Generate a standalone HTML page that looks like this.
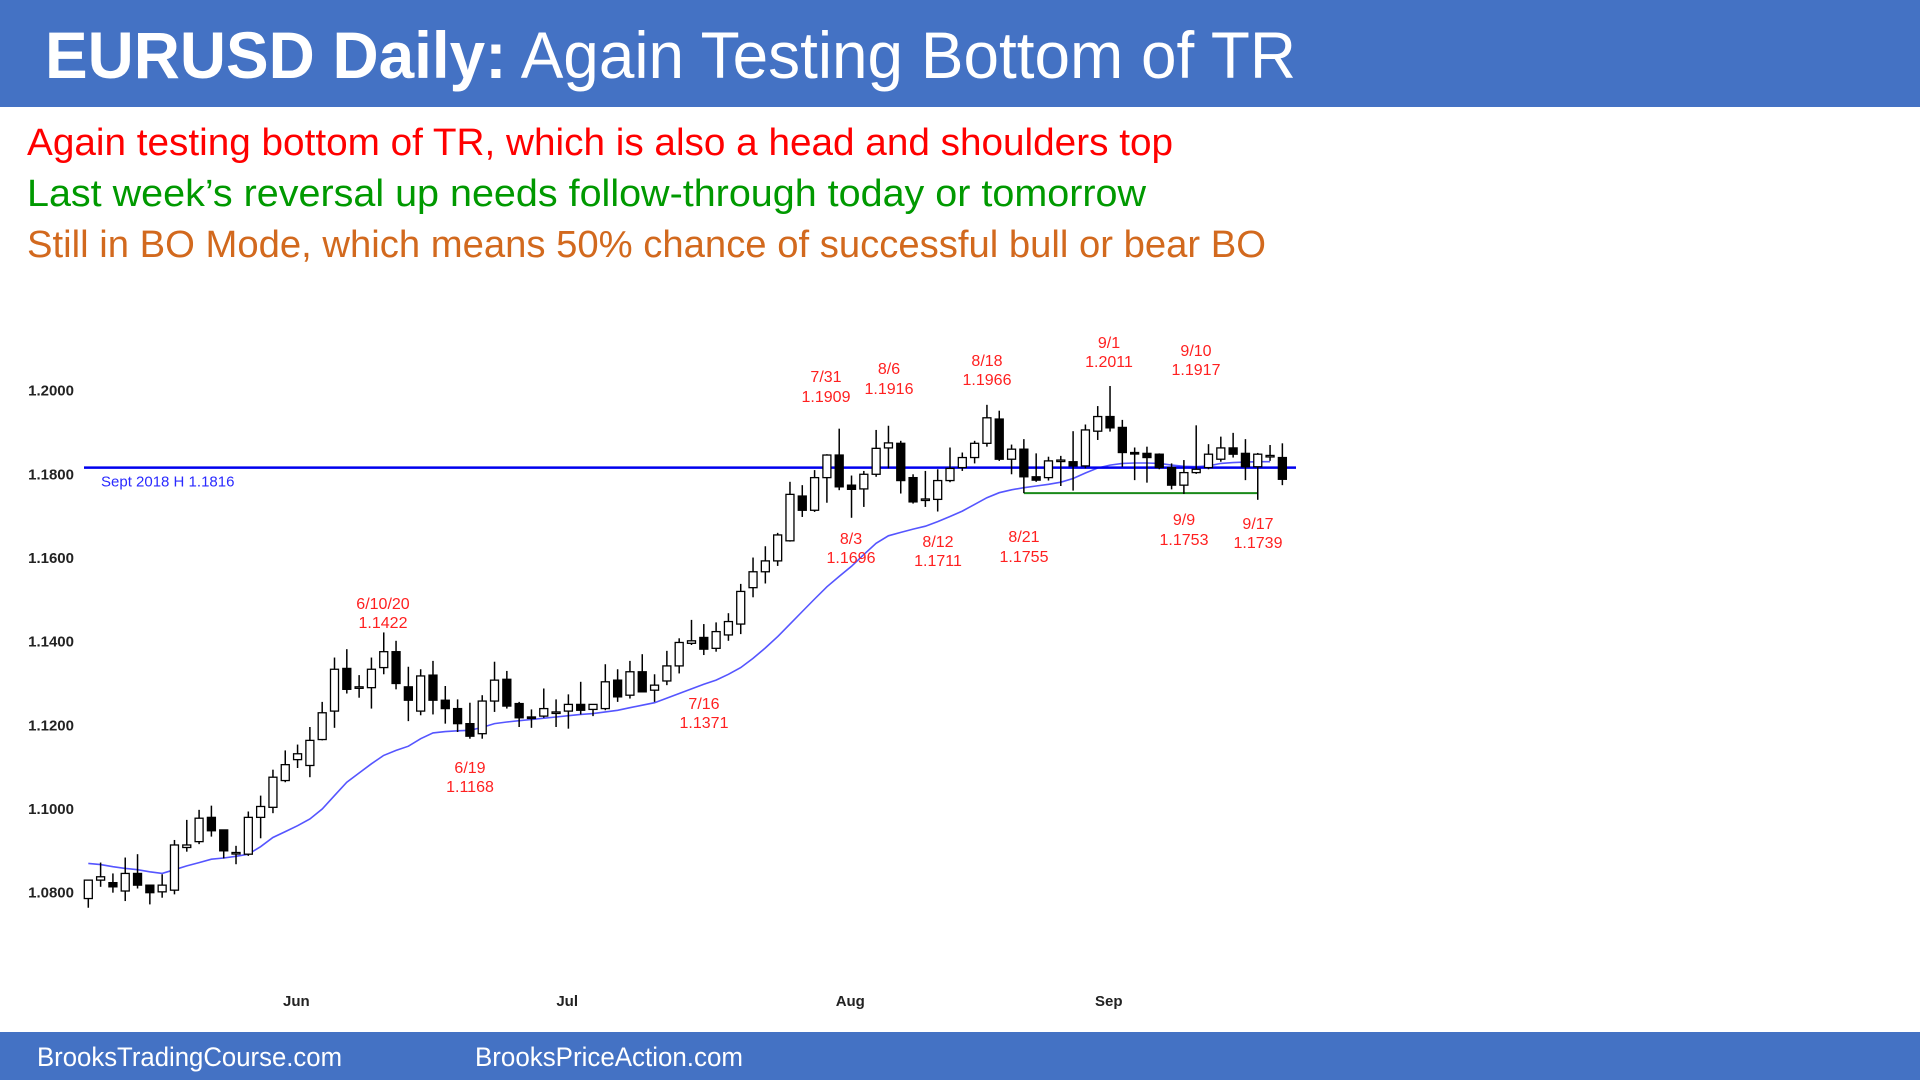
<!DOCTYPE html>
<html><head><meta charset="utf-8"><style>
html,body{margin:0;padding:0;background:#fff;}
svg{display:block;}
</style></head><body>
<svg id="chart" width="1920" height="1080" xmlns="http://www.w3.org/2000/svg" font-family="'Liberation Sans', Arial, sans-serif">
<rect x="0" y="0" width="1920" height="107" fill="#4472C4"/>
<text x="45" y="78" font-size="66" fill="#fff" textLength="1251" lengthAdjust="spacingAndGlyphs"><tspan font-weight="bold">EURUSD Daily:</tspan> Again Testing Bottom of TR</text>
<text x="27" y="155" font-size="38" fill="#FF0000" textLength="1146" lengthAdjust="spacingAndGlyphs">Again testing bottom of TR, which is also a head and shoulders top</text>
<text x="27" y="206" font-size="38" fill="#009900" textLength="1119" lengthAdjust="spacingAndGlyphs">Last week’s reversal up needs follow-through today or tomorrow</text>
<text x="27" y="257" font-size="38" fill="#D2691E" textLength="1239" lengthAdjust="spacingAndGlyphs">Still in BO Mode, which means 50% chance of successful bull or bear BO</text>
<rect x="0" y="1032" width="1920" height="48" fill="#4472C4"/>
<text x="37" y="1066" font-size="27" fill="#fff" textLength="305" lengthAdjust="spacingAndGlyphs">BrooksTradingCourse.com</text>
<text x="475" y="1066" font-size="27" fill="#fff" textLength="268" lengthAdjust="spacingAndGlyphs">BrooksPriceAction.com</text>
<g id="axes"></g>
<g id="ma"></g>
<g id="levels"></g>
<g id="candles"></g>
<g id="notes" font-size="16" fill="#FF2020" text-anchor="middle">
<text x="826" y="382">7/31</text><text x="826" y="402">1.1909</text>
<text x="889" y="374">8/6</text><text x="889" y="394">1.1916</text>
<text x="987" y="366">8/18</text><text x="987" y="385">1.1966</text>
<text x="1109" y="348">9/1</text><text x="1109" y="367">1.2011</text>
<text x="1196" y="356">9/10</text><text x="1196" y="375">1.1917</text>
<text x="383" y="609">6/10/20</text><text x="383" y="628">1.1422</text>
<text x="851" y="544">8/3</text><text x="851" y="563">1.1696</text>
<text x="938" y="547">8/12</text><text x="938" y="566">1.1711</text>
<text x="1024" y="542">8/21</text><text x="1024" y="562">1.1755</text>
<text x="1184" y="525">9/9</text><text x="1184" y="545">1.1753</text>
<text x="1258" y="529">9/17</text><text x="1258" y="548">1.1739</text>
<text x="470" y="773">6/19</text><text x="470" y="792">1.1168</text>
<text x="704" y="709">7/16</text><text x="704" y="728">1.1371</text>
</g>
</svg>
<script>
const opens=[1.0786,1.0830,1.0824,1.0804,1.0846,1.0818,1.0802,1.0806,1.0908,1.0922,1.0980,1.0950,1.0894,1.0892,1.0980,1.1004,1.1068,1.1118,1.1104,1.1166,1.1234,1.1336,1.1290,1.1290,1.1338,1.1376,1.1292,1.1234,1.1320,1.1260,1.1240,1.1204,1.1180,1.1258,1.1310,1.1252,1.1220,1.1222,1.1230,1.1234,1.1250,1.1238,1.1240,1.1308,1.1272,1.1328,1.1284,1.1306,1.1342,1.1396,1.1410,1.1384,1.1416,1.1442,1.1529,1.1567,1.1593,1.1641,1.1748,1.1714,1.1792,1.1846,1.1774,1.1765,1.1800,1.1863,1.1874,1.1792,1.1740,1.1740,1.1785,1.1816,1.1840,1.1874,1.1932,1.1836,1.1860,1.1794,1.1792,1.1832,1.1830,1.1820,1.1903,1.1938,1.1912,1.1852,1.1850,1.1848,1.1816,1.1774,1.1804,1.1816,1.1836,1.1863,1.1850,1.1818,1.1845,1.1840];
const highs=[1.0830,1.0872,1.0846,1.0884,1.0892,1.0818,1.0844,1.0926,1.0974,1.0998,1.1008,1.0950,1.0912,1.0994,1.1032,1.1094,1.1140,1.1154,1.1196,1.1256,1.1362,1.1382,1.1320,1.1362,1.1422,1.1402,1.1340,1.1334,1.1354,1.1294,1.1262,1.1254,1.1272,1.1352,1.1330,1.1256,1.1238,1.1288,1.1262,1.1274,1.1304,1.1250,1.1346,1.1334,1.1354,1.1370,1.1322,1.1378,1.1408,1.1452,1.1442,1.1446,1.1468,1.1538,1.1601,1.1628,1.1660,1.1782,1.1774,1.1810,1.1848,1.1909,1.1797,1.1808,1.1906,1.1916,1.1880,1.1800,1.1808,1.1812,1.1864,1.1852,1.1880,1.1966,1.1952,1.1871,1.1884,1.1850,1.1842,1.1844,1.1903,1.1919,1.1963,1.2011,1.1930,1.1864,1.1866,1.1850,1.1826,1.1834,1.1917,1.1872,1.1890,1.1899,1.1884,1.1851,1.1870,1.1874];
const lows=[1.0764,1.0814,1.0800,1.0780,1.0810,1.0772,1.0788,1.0796,1.0898,1.0916,1.0934,1.0882,1.0868,1.0888,1.0930,1.0990,1.1064,1.1098,1.1076,1.1164,1.1194,1.1276,1.1266,1.1240,1.1322,1.1286,1.1210,1.1224,1.1226,1.1204,1.1184,1.1168,1.1168,1.1232,1.1240,1.1196,1.1194,1.1218,1.1196,1.1192,1.1226,1.1222,1.1236,1.1256,1.1264,1.1282,1.1256,1.1296,1.1324,1.1392,1.1368,1.1376,1.1402,1.1418,1.1506,1.1539,1.1581,1.1639,1.1698,1.1710,1.1732,1.1762,1.1696,1.1722,1.1794,1.1814,1.1754,1.1730,1.1722,1.1711,1.1781,1.1808,1.1826,1.1866,1.1832,1.1800,1.1755,1.1782,1.1785,1.1772,1.1761,1.1814,1.1882,1.1902,1.1818,1.1786,1.1780,1.1812,1.1764,1.1753,1.1801,1.1812,1.1830,1.1840,1.1786,1.1739,1.1832,1.1774];
const closes=[1.0830,1.0838,1.0814,1.0846,1.0818,1.0800,1.0818,1.0914,1.0914,1.0978,1.0948,1.0900,1.0896,1.0980,1.1006,1.1076,1.1106,1.1132,1.1164,1.1230,1.1334,1.1286,1.1292,1.1334,1.1376,1.1300,1.1260,1.1318,1.1260,1.1240,1.1204,1.1174,1.1258,1.1308,1.1246,1.1218,1.1218,1.1240,1.1232,1.1250,1.1236,1.1250,1.1304,1.1268,1.1328,1.1280,1.1296,1.1342,1.1398,1.1402,1.1382,1.1424,1.1448,1.1520,1.1567,1.1593,1.1655,1.1752,1.1714,1.1792,1.1846,1.1770,1.1764,1.1800,1.1862,1.1875,1.1785,1.1734,1.1741,1.1785,1.1814,1.1840,1.1874,1.1935,1.1836,1.1860,1.1794,1.1786,1.1832,1.1834,1.1820,1.1906,1.1938,1.1911,1.1852,1.1850,1.1840,1.1816,1.1774,1.1804,1.1812,1.1848,1.1863,1.1848,1.1818,1.1848,1.1845,1.1788];
const maValues=[1.0870,1.0867,1.0862,1.0858,1.0855,1.0850,1.0846,1.0855,1.0864,1.0872,1.0880,1.0883,1.0887,1.0892,1.0910,1.0932,1.0946,1.0960,1.0976,1.1000,1.1032,1.1064,1.1086,1.1108,1.1128,1.1140,1.1150,1.1168,1.1182,1.1185,1.1187,1.1188,1.1195,1.1204,1.1208,1.1211,1.1214,1.1217,1.1220,1.1223,1.1226,1.1228,1.1232,1.1236,1.1242,1.1248,1.1254,1.1265,1.1276,1.1287,1.1298,1.1308,1.1322,1.1338,1.1360,1.1385,1.1412,1.1442,1.1472,1.1502,1.1531,1.1556,1.1580,1.1608,1.1635,1.1653,1.1661,1.1669,1.1676,1.1687,1.1699,1.1712,1.1728,1.1744,1.1756,1.1763,1.1768,1.1772,1.1776,1.1781,1.1790,1.1803,1.1815,1.1822,1.1826,1.1827,1.1827,1.1826,1.1822,1.1819,1.1818,1.1820,1.1826,1.1828,1.1829,1.1830,1.1830];
const yTicks=[1.2000,1.1800,1.1600,1.1400,1.1200,1.1000,1.0800];
const monthLabels=["Jun","Jul","Aug","Sep"];
const monthIndex=[16.9,38.9,61.9,82.9];
const septHigh=1.1816;
const trBottom=1.1755;
const trStartIdx=76, trEndIdx=95;

const NS="http://www.w3.org/2000/svg";
const yScale=p=>390.6+(1.2-p)*4184;
const xScale=i=>88.3+i*12.31;
function mk(tag,attrs,parent){const e=document.createElementNS(NS,tag);for(const k in attrs)e.setAttribute(k,attrs[k]);parent.appendChild(e);return e;}

const axes=document.getElementById('axes');
yTicks.forEach(v=>{
  const t=mk('text',{x:74,y:yScale(v)+5,'font-size':15,'font-weight':'bold',fill:'#222','text-anchor':'end'},axes);
  t.textContent=v.toFixed(4);
  
  
});
monthLabels.forEach((m,k)=>{
  const t=mk('text',{x:xScale(monthIndex[k]),y:1006,'font-size':15,'font-weight':'bold',fill:'#222','text-anchor':'middle'},axes);
  t.textContent=m;
  
  
});

const maG=document.getElementById('ma');
const pts=maValues.map((v,i)=>xScale(i).toFixed(1)+','+yScale(v).toFixed(1)).join(' ');
const maLine=mk('polyline',{points:pts,fill:'none',stroke:'#5555FF','stroke-width':1.6},maG);



const lv=document.getElementById('levels');
const sh=mk('line',{x1:84,x2:1296,y1:yScale(septHigh),y2:yScale(septHigh),stroke:'#0000EE','stroke-width':2.5},lv);


const shT=mk('text',{x:101,y:yScale(septHigh)+19,'font-size':15,fill:'#2a2aff'},lv);
shT.textContent='Sept 2018 H '+septHigh.toFixed(4);


const tr=mk('line',{x1:xScale(trStartIdx),x2:xScale(trEndIdx),y1:yScale(trBottom),y2:yScale(trBottom),stroke:'#1a8a1a','stroke-width':2},lv);



const cg=document.getElementById('candles');
opens.forEach((o,i)=>{
  const c=closes[i],h=highs[i],l=lows[i],x=xScale(i);
  const g=mk('g',{},cg);
  
  
  mk('line',{x1:x,x2:x,y1:yScale(h),y2:yScale(l),stroke:'#000','stroke-width':1.5},g);
  const top=yScale(Math.max(o,c)),bot=yScale(Math.min(o,c));
  mk('rect',{x:x-4,y:top,width:8,height:Math.max(bot-top,1.5),fill:c>=o?'#fff':'#000',stroke:'#000','stroke-width':1.3},g);
});
</script>
</body></html>
